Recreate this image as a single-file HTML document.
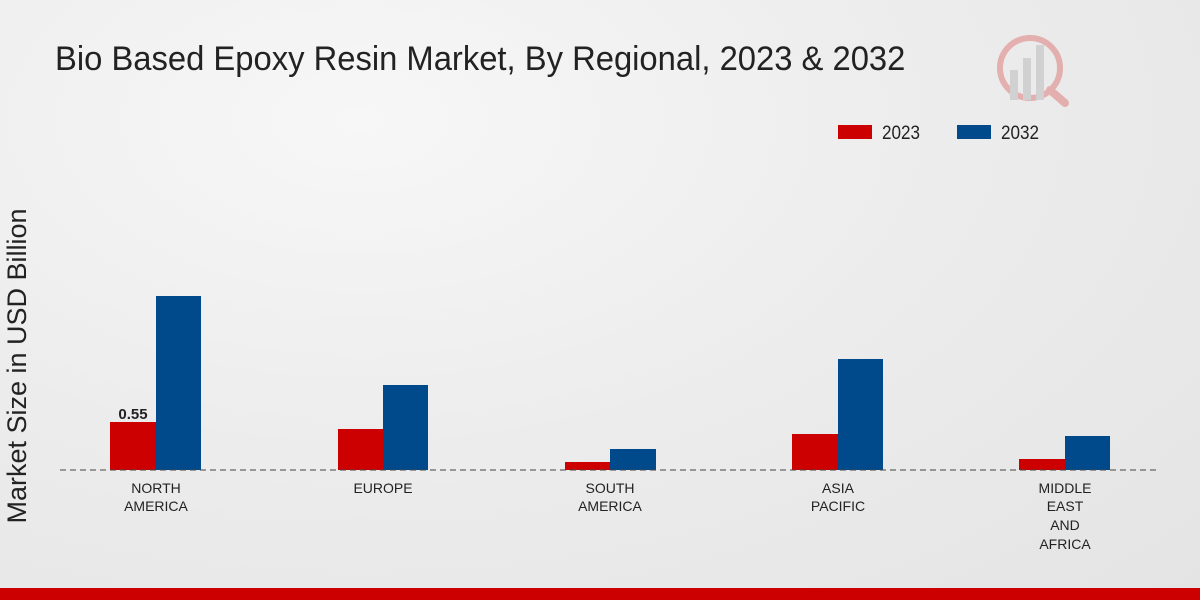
<!DOCTYPE html>
<html><head><meta charset="utf-8"><style>
html,body{margin:0;padding:0;}
body{width:1200px;height:600px;overflow:hidden;background:radial-gradient(ellipse at 30% 20%,#f7f7f7 0%,#ececec 50%,#e4e4e4 100%);font-family:"Liberation Sans",sans-serif;position:relative;}
</style></head><body>
<svg width="1200" height="600" style="position:absolute;left:0;top:0">
<text x="55" y="70" font-size="34" fill="#222" transform="translate(55,70) scale(0.964,1) translate(-55,-70)" font-family="Liberation Sans">Bio Based Epoxy Resin Market, By Regional, 2023 &amp; 2032</text>
<g opacity="0.25">
<circle cx="1030" cy="68" r="30" fill="none" stroke="#c00" stroke-width="6"/>
<rect x="1010" y="70" width="8" height="30" fill="#888"/><rect x="1023" y="58" width="8" height="42" fill="#888"/><rect x="1036" y="45" width="8" height="55" fill="#888"/>
<line x1="1050" y1="90" x2="1065" y2="103" stroke="#c00" stroke-width="8" stroke-linecap="round"/>
</g>
<rect x="838" y="125" width="34" height="14" fill="#cc0000"/>
<text x="882" y="139" font-size="19" fill="#222" transform="translate(882,139) scale(0.9,1) translate(-882,-139)">2023</text>
<rect x="957" y="125" width="34" height="14" fill="#004a8c"/>
<text x="1001" y="139" font-size="19" fill="#222" transform="translate(1001,139) scale(0.9,1) translate(-1001,-139)">2032</text>
<text transform="translate(26,366) rotate(-90)" font-size="27" fill="#222" text-anchor="middle">Market Size in USD Billion</text>
<g fill="#cc0000">
<rect x="110" y="422" width="46" height="48"/><rect x="338" y="429" width="45" height="41"/><rect x="565" y="462" width="45" height="8"/><rect x="792" y="434" width="46" height="36"/><rect x="1019" y="459" width="46" height="11"/>
</g>
<g fill="#004a8c">
<rect x="156" y="296" width="45" height="174"/><rect x="383" y="385" width="45" height="85"/><rect x="610" y="449" width="46" height="21"/><rect x="838" y="359" width="45" height="111"/><rect x="1065" y="436" width="45" height="34"/>
</g>
<line x1="60" y1="470" x2="1160" y2="470" stroke="#444" stroke-width="1" stroke-dasharray="6,4"/>
<text x="133" y="419" font-size="15" font-weight="bold" fill="#222" text-anchor="middle">0.55</text>
<g font-size="14" fill="#222" text-anchor="middle">
<text x="156" y="493">NORTH</text><text x="156" y="511">AMERICA</text>
<text x="383" y="493">EUROPE</text>
<text x="610" y="493">SOUTH</text><text x="610" y="511">AMERICA</text>
<text x="838" y="493">ASIA</text><text x="838" y="511">PACIFIC</text>
<text x="1065" y="493">MIDDLE</text><text x="1065" y="511">EAST</text><text x="1065" y="530">AND</text><text x="1065" y="549">AFRICA</text>
</g>
<rect x="0" y="588" width="1200" height="12" fill="#cc0000"/>
</svg>
</body></html>
